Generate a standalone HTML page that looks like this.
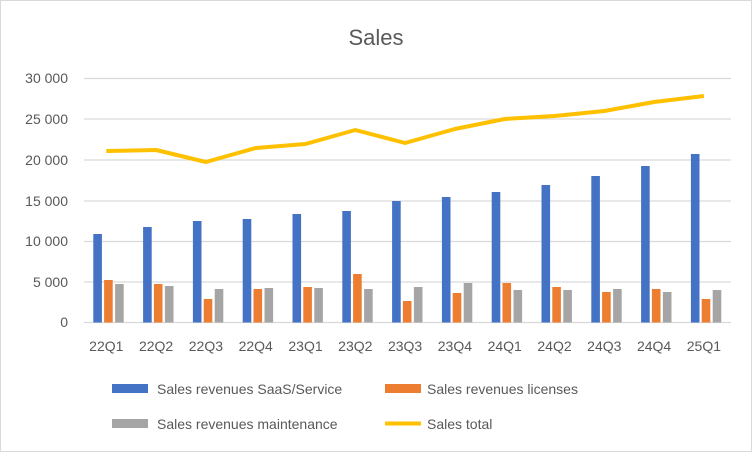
<!DOCTYPE html>
<html><head><style>body{margin:0;background:#fff}svg{display:block}text{font-family:"Liberation Sans",sans-serif;fill:#595959}</style></head>
<body>
<svg id="sv" width="752" height="452" viewBox="0 0 752 452" xmlns="http://www.w3.org/2000/svg">
<rect x="0.5" y="0.5" width="751" height="451" fill="#fff" stroke="#d9d9d9"/>
<text x="376" y="45" font-size="22" text-anchor="middle">Sales</text>
<g stroke="#d9d9d9" stroke-width="1.3">
<line x1="84" x2="731" y1="78.5" y2="78.5"/><line x1="84" x2="731" y1="119" y2="119"/><line x1="84" x2="731" y1="160" y2="160"/><line x1="84" x2="731" y1="201" y2="201"/><line x1="84" x2="731" y1="241.5" y2="241.5"/><line x1="84" x2="731" y1="282" y2="282"/><line x1="84" x2="731" y1="322.5" y2="322.5"/>
</g>
<g font-size="14" text-anchor="end">
<text x="68" y="83">30 000</text><text x="68" y="124">25 000</text><text x="68" y="165">20 000</text><text x="68" y="206">15 000</text><text x="68" y="246">10 000</text><text x="68" y="287">5 000</text><text x="68" y="327">0</text>
</g>
<g id="bars"></g>
<g font-size="14" text-anchor="middle">
<text x="106.3" y="351">22Q1</text><text x="156.1" y="351">22Q2</text><text x="205.9" y="351">22Q3</text><text x="255.7" y="351">22Q4</text><text x="305.5" y="351">23Q1</text><text x="355.3" y="351">23Q2</text><text x="405.1" y="351">23Q3</text><text x="454.9" y="351">23Q4</text><text x="504.7" y="351">24Q1</text><text x="554.5" y="351">24Q2</text><text x="604.3" y="351">24Q3</text><text x="654.1" y="351">24Q4</text><text x="703.9" y="351">25Q1</text>
</g>
<polyline id="tot" fill="none" stroke="#ffc000" stroke-width="4" stroke-linejoin="round" points="106.3,151 156.1,150 205.9,162 255.7,148 305.5,144 355.3,130 405.1,143 454.9,129 504.7,119 554.5,116 604.3,111 654.1,102 703.9,96"/>
<rect x="112" y="384" width="36" height="9" fill="#4472c4"/>
<text x="157" y="394" font-size="14">Sales revenues SaaS/Service</text>
<rect x="385" y="384" width="36" height="9" fill="#ed7d31"/>
<text x="427" y="394" font-size="14">Sales revenues licenses</text>
<rect x="112" y="419" width="36" height="9" fill="#a5a5a5"/>
<text x="157" y="429" font-size="14">Sales revenues maintenance</text>
<line x1="385" x2="421" y1="423.5" y2="423.5" stroke="#ffc000" stroke-width="4"/>
<text x="427" y="429" font-size="14">Sales total</text>
</svg>
<script>
var b=[234,227,221,219,214,211,201,197,192,185,176,166,154],o=[280,284,299,289,287,274,301,293,283,287,292,289,299],g=[284,286,289,288,288,289,287,283,290,290,289,292,290];
var G=document.getElementById("bars"),NS="http://www.w3.org/2000/svg";
function r(x,y,c){var e=document.createElementNS(NS,"rect");e.setAttribute("x",x);e.setAttribute("y",y);e.setAttribute("width",8.6);e.setAttribute("height",322.5-y);e.setAttribute("fill",c);G.appendChild(e);}
for(var i=0;i<13;i++){var x0=93.3+49.8*i;r(x0,b[i],"#4472c4");r(x0+10.8,o[i],"#ed7d31");r(x0+21.8,g[i],"#a5a5a5");}
</script>
</body></html>
